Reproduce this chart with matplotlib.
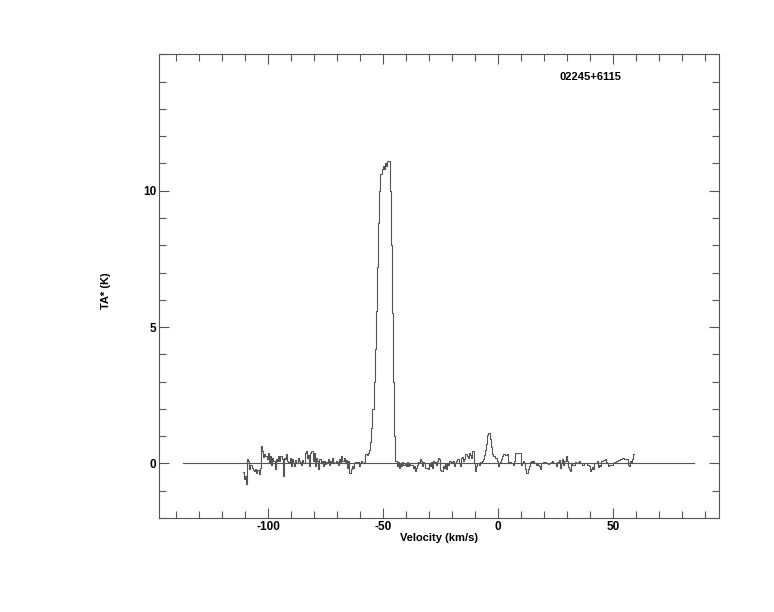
import numpy as np
import matplotlib
matplotlib.use("Agg")
import matplotlib.pyplot as plt
from matplotlib.ticker import MultipleLocator, FixedLocator

# spectrum, 0.5 km/s channels from -111 to 59 km/s
v_start = -111.0
v_step = 0.5
ta = [
    -0.30, -0.58, -0.45, -0.77, 0.15, 0.10, -0.20, -0.05, -0.16, -0.25, -0.28, -0.20, -0.34, -0.25, -0.40, -0.15, 0.63, 0.45, 0.25, 0.33,
    0.27, 0.15, 0.39, 0.02, 0.27, -0.04, 0.21, 0.09, -0.22, 0.17, 0.09, 0.27, 0.08, 0.27, 0.15, -0.46, 0.20, 0.15, 0.33, 0.08,
    0.05, 0.20, -0.10, 0.15, 0.02, -0.08, 0.12, 0.00, 0.20, 0.10, 0.05, -0.05, 0.12, 0.00, 0.40, 0.45, 0.20, 0.30, -0.10, 0.38,
    0.45, 0.10, 0.38, -0.10, 0.20, 0.08, -0.20, 0.15, 0.02, 0.10, -0.10, 0.10, -0.03, 0.05, 0.15, -0.05, 0.10, 0.00, 0.20, 0.05,
    0.00, 0.10, 0.05, -0.05, 0.15, 0.05, 0.27, 0.10, 0.20, 0.00, 0.12, -0.15, 0.10, -0.34, -0.20, -0.10, -0.15, 0.02, 0.05, 0.00,
    0.05, -0.10, 0.00, 0.10, 0.02, 0.00, 0.05, 0.35, 0.30, 0.40, 0.50, 0.80, 1.30, 2.00, 3.00, 4.20, 5.60, 7.20, 8.80, 10.00,
    10.60, 10.80, 10.90, 10.80, 11.00, 10.90, 11.10, 11.10, 10.00, 8.00, 5.50, 3.00, 1.00, 0.10, -0.10, 0.05, -0.15, 0.00, -0.10, 0.05,
    -0.04, 0.00, -0.10, 0.05, -0.10, 0.00, -0.05, -0.04, -0.15, -0.10, -0.28, -0.15, -0.05, 0.05, 0.15, 0.10, -0.10, 0.05, 0.02, -0.15,
    -0.16, -0.20, 0.02, -0.10, 0.05, -0.16, 0.08, 0.05, -0.04, 0.10, 0.20, 0.15, -0.24, -0.28, -0.10, -0.16, 0.00, -0.22, 0.02, -0.05,
    0.08, 0.02, 0.05, 0.10, -0.10, 0.02, 0.10, 0.15, 0.00, -0.10, 0.20, 0.25, 0.10, 0.15, 0.33, 0.27, 0.20, 0.39, 0.30, 0.20,
    0.45, 0.00, -0.28, -0.10, 0.00, 0.02, -0.04, 0.05, 0.08, 0.15, 0.30, 0.50, 0.70, 1.05, 1.12, 0.90, 0.60, 0.35, 0.27, 0.27,
    0.20, 0.08, -0.10, 0.02, 0.05, 0.15, 0.27, 0.33, 0.30, 0.30, 0.33, 0.05, 0.00, 0.05, 0.02, -0.05, 0.10, 0.37, 0.37, 0.37,
    0.37, 0.37, -0.07, 0.00, 0.08, 0.02, -0.20, -0.34, -0.20, -0.10, 0.05, 0.08, 0.00, 0.08, 0.02, -0.05, 0.00, -0.04, -0.10, -0.20,
    0.02, 0.05, 0.06, 0.05, 0.00, 0.02, -0.02, 0.00, 0.05, 0.08, 0.02, 0.00, 0.02, -0.10, 0.05, 0.12, -0.16, 0.00, 0.17, -0.04,
    0.10, 0.27, 0.10, -0.12, -0.20, -0.28, 0.02, -0.04, -0.05, 0.05, 0.02, 0.00, 0.05, 0.08, 0.00, -0.07, -0.04, 0.00, 0.02, 0.00,
    -0.04, -0.10, -0.28, -0.20, -0.12, -0.20, 0.00, 0.02, 0.08, -0.12, -0.05, -0.10, 0.08, 0.10, 0.12, 0.15, 0.05, 0.00, -0.10, -0.07,
    -0.05, -0.04, 0.00, 0.05, 0.06, 0.08, 0.10, 0.12, 0.15, 0.17, 0.20, 0.20, 0.17, 0.15, 0.15, -0.05, -0.10, 0.08, 0.02, 0.15,
    0.33,
]
velocity = v_start + v_step * np.arange(len(ta))

baseline_v = [-137, 85]
baseline_t = [0, 0]
y_major = [0, 5, 10]
source = "02245+6115"

grey = "#555555"
plt.rcParams["font.family"] = ["Liberation Sans", "DejaVu Sans"]
plt.rcParams["font.weight"] = "bold"
plt.rcParams["axes.unicode_minus"] = False

fig = plt.figure(figsize=(7.74, 6.12), dpi=100)
ax = fig.add_axes([0.2058, 0.1536, 0.7232, 0.7577])

ax.plot(velocity, ta, drawstyle="steps-mid", color=grey, lw=0.8)
ax.plot(baseline_v, baseline_t, color=grey, lw=0.8)

ax.set_xlim(-147.4, 96)
ax.set_ylim(-2, 15)

ax.xaxis.set_major_locator(MultipleLocator(50))
ax.xaxis.set_minor_locator(MultipleLocator(10))
ax.yaxis.set_major_locator(FixedLocator(y_major))
ax.yaxis.set_minor_locator(MultipleLocator(1))
ax.tick_params(which="both", direction="in", top=True, right=True, color=grey,
               labelsize=8.5, width=0.8)
ax.tick_params(which="major", length=7.5, pad=2)
ax.tick_params(which="minor", length=5)
for lab in ax.get_xticklabels() + ax.get_yticklabels():
    lab.set_fontweight("bold")
for s in ax.spines.values():
    s.set_color(grey)
    s.set_linewidth(0.8)

ax.set_xlabel("Velocity (km/s)", fontsize=8, fontweight="bold", labelpad=0)
ax.set_ylabel("TA* (K)", fontsize=8, fontweight="bold")
ax.yaxis.set_label_coords(-0.087, 0.49)
ax.text(0.77, 0.952, source, transform=ax.transAxes, ha="center", va="center",
        fontsize=8, fontweight="bold")

fig.savefig("out.png", dpi=100)
